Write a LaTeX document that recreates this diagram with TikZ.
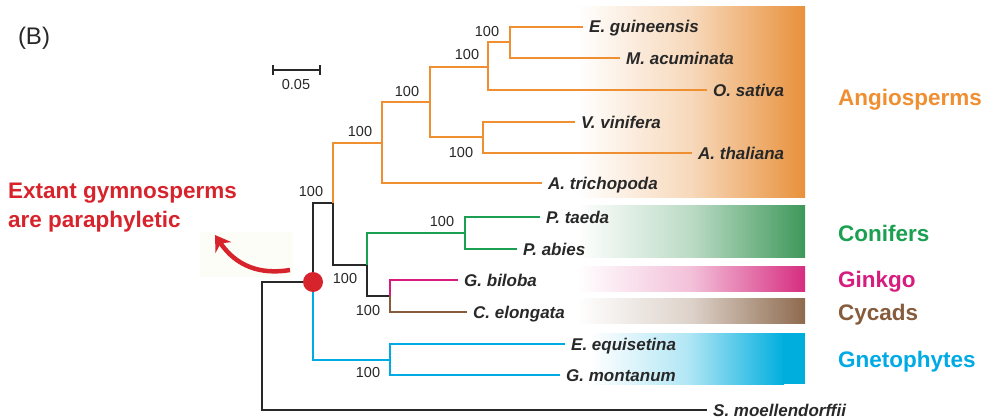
\documentclass[tikz,border=0pt]{standalone}
\usepackage{fontspec}
\setmainfont{Liberation Sans}
\usetikzlibrary{calc, arrows.meta}

\definecolor{angio}{RGB}{240,142,50}
\definecolor{angiobar}{RGB}{232,145,60}
\definecolor{conif}{RGB}{26,160,80}
\definecolor{conifbar}{RGB}{62,152,90}
\definecolor{ginkgo}{RGB}{214,28,126}
\definecolor{ginkgobar}{RGB}{214,45,128}
\definecolor{cycad}{RGB}{135,92,60}
\definecolor{cycadbar}{RGB}{142,106,78}
\definecolor{gneto}{RGB}{0,170,228}
\definecolor{gnetobar}{RGB}{0,174,222}
\definecolor{darkline}{RGB}{40,40,40}
\definecolor{claimred}{RGB}{215,36,44}
\definecolor{arrowbg}{RGB}{253,253,248}

\tikzset{
  taxon/.style={anchor=west, inner xsep=6pt, inner ysep=0pt,
    text height=12pt, text depth=0pt, text=darkline,
    font=\fontsize{17}{17}\selectfont\bfseries\itshape},
  bs/.style={inner sep=0pt, text=darkline, font=\fontsize{14.5}{14.5}\selectfont},
  grp/.style={anchor=west, inner sep=0pt, text height=16pt, text depth=0pt,
    font=\fontsize{22.5}{22.5}\selectfont\bfseries},
  br/.style={line width=2.6pt},
  blk/.style={line width=2pt, draw=darkline},
}

\begin{document}
\begin{tikzpicture}[x=1pt, y=-1pt]
\useasboundingbox (0,0) rectangle (988,420);

% clade bars
\shade[left color=white, right color=angiobar, middle color=angiobar!35] (577,7) rectangle (805,197);
\shade[left color=white, right color=conifbar, middle color=conifbar!35] (577,205) rectangle (805,257);
\shade[left color=white, right color=ginkgobar, middle color=ginkgobar!30] (577,266) rectangle (805,291);
\shade[left color=white, right color=cycadbar, middle color=cycadbar!30] (577,298) rectangle (805,323);
\shade[left color=white, right color=gnetobar, middle color=gnetobar!30] (590,333) rectangle (784,384);
\fill[gnetobar] (783,333) rectangle (805,384);

\node[grp, text=angio] (lang) at (838,98) {Angiosperms};
\node[grp, text=conif] (lcon) at (838,233) {Conifers};
\node[grp, text=ginkgo] (lgin) at (838,279) {Ginkgo};
\node[grp, text=cycad] (lcyc) at (838,312) {Cycads};
\node[grp, text=gneto] (lgne) at (838,359) {Gnetophytes};

% internal nodes
\coordinate (nRoot) at (262,282);
\coordinate (nSp) at (313,282);
\coordinate (nAG) at (333,203);
\coordinate (nAng) at (382,143);
\coordinate (nCore) at (430,102);
\coordinate (nMono) at (488,67);
\coordinate (nEM) at (510,42);
\coordinate (nEud) at (483,137);
\coordinate (nGym) at (367,265);
\coordinate (nCon) at (465,233);
\coordinate (nGC) at (390,296);
\coordinate (nGne) at (390,360);

% leaves
\node[taxon] (egu) at (583,27) {E. guineensis};
\node[taxon] (mac) at (620,58) {M. acuminata};
\node[taxon] (osa) at (707,90) {O. sativa};
\node[taxon] (vvi) at (575,122) {V. vinifera};
\node[taxon] (ath) at (692,153) {A. thaliana};
\node[taxon] (atr) at (542,183) {A. trichopoda};
\node[taxon] (pta) at (540,217) {P. taeda};
\node[taxon] (pab) at (517,249) {P. abies};
\node[taxon] (gbi) at (458,280) {G. biloba};
\node[taxon] (cel) at (467,312) {C. elongata};
\node[taxon] (eeq) at (565,344) {E. equisetina};
\node[taxon] (gmo) at (560,375) {G. montanum};
\node[taxon] (smo) at (707,410) {S. moellendorffii};

% branches
\draw[blk] (nSp) -- (nRoot) |- (smo.west);
\draw[blk] (nSp) |- (nAG);
\draw[blk] (nAG) |- (nGym);
\draw[blk] (nGym) |- (nGC);
\draw[br, angio] (nAG) |- (nAng);
\draw[br, angio] (nAng) |- (nCore);
\draw[br, angio] (nAng) |- (atr.west);
\draw[br, angio] (nCore) |- (nMono);
\draw[br, angio] (nCore) |- (nEud);
\draw[br, angio] (nMono) |- (nEM);
\draw[br, angio] (nMono) |- (osa.west);
\draw[br, angio] (nEM) |- (egu.west);
\draw[br, angio] (nEM) |- (mac.west);
\draw[br, angio] (nEud) |- (vvi.west);
\draw[br, angio] (nEud) |- (ath.west);
\draw[br, conif] (nGym) |- (nCon);
\draw[br, conif] (nCon) |- (pta.west);
\draw[br, conif] (nCon) |- (pab.west);
\draw[br, ginkgo] (nGC) |- (gbi.west);
\draw[br, cycad] (nGC) |- (cel.west);
\draw[br, gneto] (nSp) |- (nGne);
\draw[br, gneto] (nGne) |- (eeq.west);
\draw[br, gneto] (nGne) |- (gmo.west);

\node[circle, fill=claimred, minimum size=20pt, inner sep=0pt] (dot) at (nSp) {};

% support values
\node[bs] (bEM) at ($(nEM)+(-23,-10)$) {100};
\node[bs] (bMono) at ($(nMono)+(-21,-12)$) {100};
\node[bs] (bCore) at ($(nCore)+(-23,-10)$) {100};
\node[bs] (bAng) at ($(nAng)+(-22,-11)$) {100};
\node[bs] (bAG) at ($(nAG)+(-22,-11)$) {100};
\node[bs] (bCon) at ($(nCon)+(-23,-11)$) {100};
\node[bs] (bEud) at ($(nEud)+(-22,16)$) {100};
\node[bs] (bGym) at ($(nGym)+(-22,14)$) {100};
\node[bs] (bGC) at ($(nGC)+(-22,15)$) {100};
\node[bs] (bGne) at ($(nGne)+(-22,13)$) {100};

% scale bar
\coordinate (sbL) at (273,70);
\coordinate (sbR) at (320,70);
\draw[blk] (sbL) -- (sbR);
\draw[blk] ([yshift=5pt]sbL) -- ([yshift=-5pt]sbL);
\draw[blk] ([yshift=5pt]sbR) -- ([yshift=-5pt]sbR);
\node[bs] (sbtxt) at (296,85) {0.05};

\node[font=\fontsize{24}{24}\selectfont, text=darkline] (panel) at (34,38) {(B)};

% claim and arrow
\node[anchor=west, align=left, inner sep=0pt, text=claimred,
  font=\fontsize{22.5}{29}\selectfont\bfseries] (claim) at (8,208) {Extant gymnosperms\\are paraphyletic};
\fill[arrowbg] (200,232) rectangle (293,277);
\coordinate (arrT) at (290,270);
\coordinate (arrH) at (215,235);
\draw[claimred, line width=4.5pt, -{Stealth[length=15pt,width=19pt]}]
  (arrT) .. controls (260,275) and (236,266) .. (arrH);
\end{tikzpicture}
\end{document}
